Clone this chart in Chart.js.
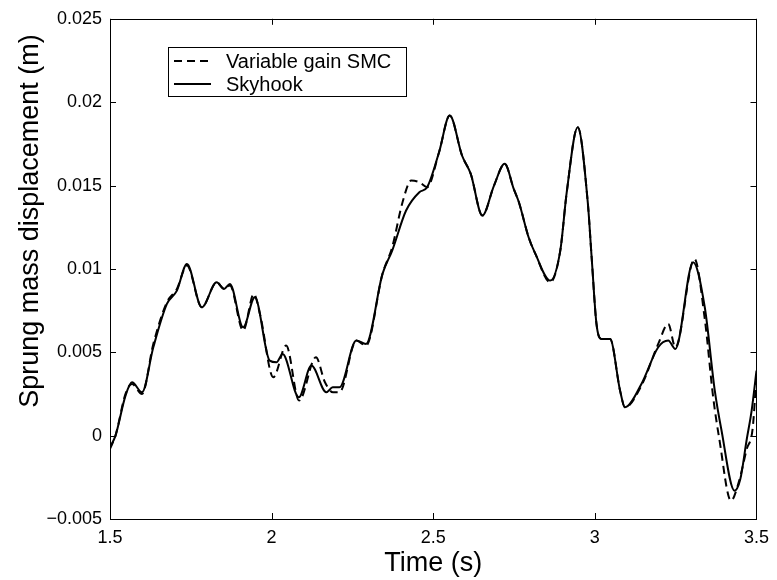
<!DOCTYPE html>
<html>
  <head>
    <title>Sprung mass displacement</title>
    <style>
      body { margin: 0; background: #fff; }
    </style>
  </head>
  <body>
    <div style="width: 777px; height: 580px">
      <canvas id="canvas"></canvas>
    </div>
    <script src="https://cdn.jsdelivr.net/npm/chart.js@4"></script>
    <script>
      // time (s) and displacement (m)
      const skyT = [1.5, 1.517, 1.548, 1.568, 1.599, 1.634, 1.676, 1.707, 1.738, 1.784,
        1.83, 1.853, 1.871, 1.912, 1.948, 1.994, 2.015, 2.034, 2.084, 2.123,
        2.169, 2.189, 2.21, 2.262, 2.292, 2.343, 2.373, 2.416, 2.457, 2.481,
        2.518, 2.551, 2.589, 2.616, 2.652, 2.688, 2.721, 2.749, 2.765, 2.795,
        2.816, 2.862, 2.893, 2.913, 2.947, 2.978, 2.99, 3.005, 3.02, 3.047,
        3.078, 3.093, 3.144, 3.196, 3.227, 3.249, 3.304, 3.34, 3.371, 3.391,
        3.432, 3.45, 3.47, 3.485, 3.5];
      const skyV = [-0.0007, 0.0, 0.0024, 0.0032, 0.0026, 0.0053, 0.0079, 0.0087, 0.0103, 0.0077,
        0.0092, 0.0088, 0.0091, 0.0065, 0.0083, 0.0045, 0.0044, 0.0049, 0.0023, 0.0042,
        0.0026, 0.0029, 0.0029, 0.0057, 0.0055, 0.0097, 0.0111, 0.0135, 0.0146, 0.0149,
        0.017, 0.0192, 0.0168, 0.0157, 0.0132, 0.015, 0.0163, 0.0148, 0.014, 0.0119,
        0.0109, 0.0093, 0.0111, 0.0146, 0.0185, 0.014, 0.0107, 0.0067, 0.0058, 0.0058,
        0.0027, 0.0017, 0.0031, 0.0053, 0.0057, 0.0052, 0.0104, 0.0077, 0.0027, 0.0004,
        -0.0033, -0.0026, -0.0002, 0.0015, 0.0039];

      const smcT = [1.5, 1.517, 1.548, 1.568, 1.599, 1.634, 1.676, 1.707, 1.738, 1.784,
        1.83, 1.853, 1.871, 1.912, 1.945, 1.965, 2.005, 2.045, 2.085, 2.137,
        2.165, 2.19, 2.21, 2.262, 2.292, 2.343, 2.373, 2.405, 2.432, 2.457,
        2.481, 2.518, 2.551, 2.589, 2.616, 2.652, 2.688, 2.721, 2.749, 2.765,
        2.795, 2.816, 2.862, 2.893, 2.913, 2.947, 2.978, 2.99, 3.005, 3.02,
        3.047, 3.078, 3.093, 3.144, 3.196, 3.227, 3.249, 3.308, 3.34, 3.366,
        3.385, 3.421, 3.445, 3.47, 3.488, 3.5];
      const smcV = [-0.0008, 0.0, 0.0025, 0.0031, 0.0025, 0.0055, 0.008, 0.0088, 0.0102, 0.0077,
        0.0092, 0.0088, 0.009, 0.0063, 0.0085, 0.0072, 0.0035, 0.0054, 0.0021, 0.0047,
        0.0032, 0.0026, 0.0026, 0.0057, 0.0054, 0.0097, 0.0113, 0.014, 0.0153, 0.0152,
        0.0149, 0.017, 0.0192, 0.0168, 0.0157, 0.0132, 0.015, 0.0163, 0.0148, 0.014,
        0.0119, 0.0109, 0.0092, 0.0111, 0.0146, 0.0185, 0.014, 0.0107, 0.0067, 0.0058,
        0.0058, 0.0027, 0.0017, 0.003, 0.0055, 0.0067, 0.0053, 0.0106, 0.007, 0.0023,
        -0.0002, -0.0039, -0.0028, -0.0008, 0.0004, 0.0036];

      const xTicks = [1.5, 2, 2.5, 3, 3.5];
      const xTickLabels = ["1.5", "2", "2.5", "3", "3.5"];
      const yTicks = [-0.005, 0, 0.005, 0.01, 0.015, 0.02, 0.025];
      const yTickLabels = ["\u22120.005", "0", "0.005", "0.01", "0.015", "0.02", "0.025"];
      const yTitle = "Sprung mass displacement (m)";

      const FONT = "'Liberation Sans', Arial, Helvetica, sans-serif";

      const pts = (t, v) => t.map((x, i) => ({ x: x, y: v[i] }));

      // box, inward ticks on all four sides, legend box, y label
      const framePlugin = {
        id: "frame",
        afterDatasetsDraw(chart) {
          const ctx = chart.ctx;
          const a = chart.chartArea;
          const xs = chart.scales.x;
          const ys = chart.scales.y;
          const tl = 6;
          ctx.save();
          ctx.strokeStyle = "#000";
          ctx.lineWidth = 1;
          ctx.strokeRect(Math.round(a.left) + 0.5, Math.round(a.top) + 0.5,
            Math.round(a.right - a.left), Math.round(a.bottom - a.top));
          ctx.beginPath();
          xTicks.forEach((v) => {
            const p = Math.round(xs.getPixelForValue(v)) + 0.5;
            ctx.moveTo(p, a.bottom); ctx.lineTo(p, a.bottom - tl);
            ctx.moveTo(p, a.top); ctx.lineTo(p, a.top + tl);
          });
          yTicks.forEach((v) => {
            const p = Math.round(ys.getPixelForValue(v)) + 0.5;
            ctx.moveTo(a.left, p); ctx.lineTo(a.left + tl, p);
            ctx.moveTo(a.right, p); ctx.lineTo(a.right - tl, p);
          });
          ctx.stroke();

          // legend
          const lx = 168, ly = 47, lw = 238, lh = 49;
          ctx.fillStyle = "#fff";
          ctx.fillRect(lx, ly, lw, lh);
          ctx.strokeRect(lx + 0.5, ly + 0.5, lw, lh);
          ctx.font = "20px " + FONT;
          ctx.textBaseline = "middle";
          ctx.fillStyle = "#000";
          chart.data.datasets.forEach((ds, i) => {
            const y = ly + 14 + i * 23;
            ctx.beginPath();
            ctx.setLineDash(ds.borderDash || []);
            ctx.lineWidth = 2;
            ctx.moveTo(lx + 6, y);
            ctx.lineTo(lx + 43, y);
            ctx.stroke();
            ctx.setLineDash([]);
            ctx.fillText(ds.label, lx + 58, y + 1);
          });

          // y axis label
          ctx.translate(31, 221);
          ctx.rotate(-Math.PI / 2);
          ctx.font = "27px " + FONT;
          ctx.textAlign = "center";
          ctx.fillText(yTitle, 0, 0);
          ctx.restore();
        }
      };

      new Chart(document.getElementById("canvas").getContext("2d"), {
        type: "scatter",
        data: {
          datasets: [
            {
              label: "Variable gain SMC",
              data: pts(smcT, smcV),
              showLine: true,
              borderColor: "#000",
              borderWidth: 2,
              borderDash: [8, 5],
              pointRadius: 0,
              cubicInterpolationMode: "monotone"
            },
            {
              label: "Skyhook",
              data: pts(skyT, skyV),
              showLine: true,
              borderColor: "#000",
              borderWidth: 2,
              pointRadius: 0,
              cubicInterpolationMode: "monotone"
            }
          ]
        },
        options: {
          responsive: true,
          maintainAspectRatio: false,
          animation: false,
          layout: { padding: { left: 0, right: 18, top: 16, bottom: 0 } },
          plugins: {
            legend: { display: false },
            tooltip: { enabled: false }
          },
          scales: {
            x: {
              type: "linear",
              min: 1.5,
              max: 3.5,
              afterFit: (s) => { s.height = 61; },
              afterBuildTicks: (s) => { s.ticks = xTicks.map((v) => ({ value: v })); },
              grid: { display: false, drawTicks: false },
              border: { display: false },
              ticks: {
                color: "#000",
                padding: 8,
                maxRotation: 0,
                font: { family: FONT, size: 18 },
                callback: (v) => xTickLabels[xTicks.indexOf(v)]
              },
              title: {
                display: true,
                text: "Time (s)",
                color: "#000",
                font: { family: FONT, size: 27, lineHeight: 1.2 },
                padding: { top: 2, bottom: 0 }
              }
            },
            y: {
              type: "linear",
              min: -0.005,
              max: 0.025,
              afterFit: (s) => { s.width = 110; },
              afterBuildTicks: (s) => { s.ticks = yTicks.map((v) => ({ value: v })); },
              grid: { display: false, drawTicks: false },
              border: { display: false },
              ticks: {
                color: "#000",
                padding: 8,
                font: { family: FONT, size: 18 },
                callback: (v, i) => yTickLabels[i]
              }
            }
          }
        },
        plugins: [framePlugin]
      });
    </script>
  </body>
</html>
